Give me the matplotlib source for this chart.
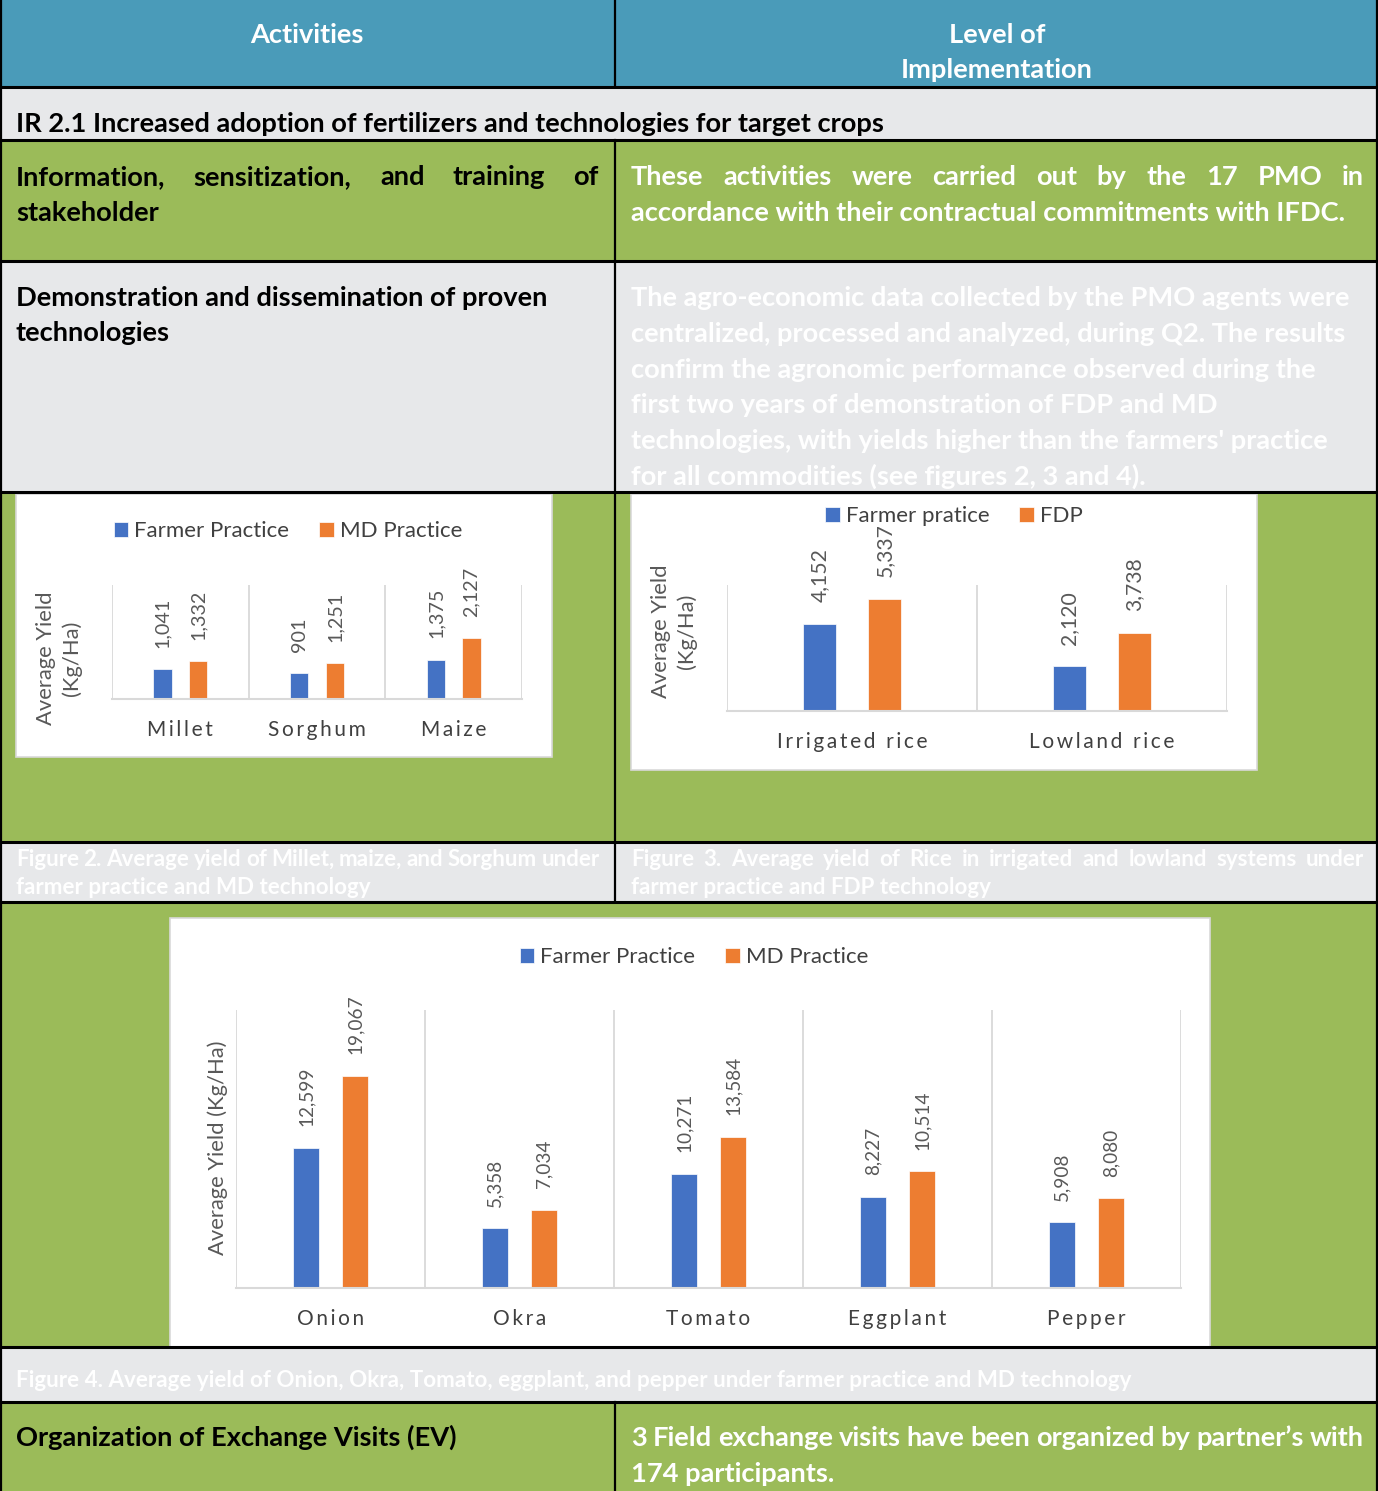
import numpy as np
import matplotlib
matplotlib.use('Agg')
import matplotlib.pyplot as plt
from matplotlib.patches import Rectangle

W, H = 1378, 1491
TEAL = '#4A9BB9'
GREEN = '#9BBB59'
GREY = '#E7E8EA'
BLUE = '#4472C4'
ORANGE = '#ED7D31'
LABEL = '#595959'
TICK = '#404040'
GRID = '#D9D9D9'
FONT = ['Lato', 'DejaVu Sans']

# chart data
cereal_crops = ['Millet', 'Sorghum', 'Maize']
cereal_farmer = [1041, 901, 1375]
cereal_md = [1332, 1251, 2127]

rice_systems = ['Irrigated rice', 'Lowland rice']
rice_farmer = [4152, 2120]
rice_fdp = [5337, 3738]

veg_crops = ['Onion', 'Okra', 'Tomato', 'Eggplant', 'Pepper']
veg_farmer = [12599, 5358, 10271, 8227, 5908]
veg_md = [19067, 7034, 13584, 10514, 8080]

# table text
header_left = 'Activities'
header_right = ['Level of', 'Implementation']
ir_title = 'IR 2.1 Increased adoption of fertilizers and technologies for target crops'
info_left = ['Information, sensitization, and training of', 'stakeholder']
info_right = ['These activities were carried out by the 17 PMO in',
              'accordance with their contractual commitments with IFDC.']
demo_left = ['Demonstration and dissemination of proven', 'technologies']
demo_right = ['The agro-economic data collected by the PMO agents were',
              'centralized, processed and analyzed, during Q2. The results',
              'confirm the agronomic performance observed during the',
              'first two years of demonstration of FDP and MD',
              "technologies, with yields higher than the farmers' practice",
              'for all commodities (see figures 2, 3 and 4).']
cap2 = ['Figure 2. Average yield of Millet, maize, and Sorghum under',
        'farmer practice and MD technology']
cap3 = ['Figure 3.  Average  yield  of  Rice  in  irrigated  and  lowland  systems  under',
        'farmer practice and FDP technology']
cap4 = 'Figure 4. Average yield of Onion, Okra, Tomato, eggplant, and pepper under farmer practice and MD technology'
ev_left = 'Organization of Exchange Visits (EV)'
ev_right = ['3 Field exchange visits have been organized by partner\u2019s with',
            '174 participants.']

fig = plt.figure(figsize=(W / 100, H / 100), dpi=100)
bg = fig.add_axes([0, 0, 1, 1])
bg.set_xlim(0, W)
bg.set_ylim(H, 0)
bg.axis('off')
renderer = fig.canvas.get_renderer()

# table rows
rows = [(0, 87, TEAL), (87, 140, GREY), (140, 261, GREEN), (261, 492, GREY),
        (492, 842, GREEN), (842, 902, GREY), (902, 1347, GREEN),
        (1347, 1402, GREY), (1402, 1491, GREEN)]
for y0, y1, c in rows:
    bg.add_patch(Rectangle((0, y0), W, y1 - y0, facecolor=c, edgecolor='none'))
for y in [87, 140, 261, 492, 842, 902, 1347, 1402]:
    bg.plot([0, W], [y, y], color='black', lw=2.2, solid_capstyle='butt')
for y0, y1 in [(0, 87), (140, 902), (1402, 1491)]:
    bg.plot([615, 615], [y0, y1], color='black', lw=1.6)
bg.plot([1, 1], [0, H], color='black', lw=1.6)
bg.plot([W - 1, W - 1], [0, H], color='black', lw=1.6)

body = dict(family=FONT, weight='bold', fontsize=19.6, va='baseline')
capkw = dict(family=FONT, weight='bold', fontsize=16.1, va='baseline', color='white')


def line(txt, x, y, x1=None, **kw):
    if x1 is None:
        bg.text(x, y, txt, **kw)
        return
    words = txt.split()
    texts = [bg.text(0, y, w, **kw) for w in words]
    widths = [t.get_window_extent(renderer).width for t in texts]
    gap = (x1 - x - sum(widths)) / (len(words) - 1)
    for t, w in zip(texts, widths):
        t.set_x(x)
        x += w + gap


# header
bg.text(307, 43, header_left, ha='center', color='white', **body)
bg.text(997, 43, header_right[0], ha='center', color='white', **body)
bg.text(997, 78, header_right[1], ha='center', color='white', **body)

line(ir_title, 16, 132, color='black', **body)
line(info_left[0], 16, 185, 599, color='black', **body)
line(info_left[1], 16, 221, color='black', **body)
line(info_right[0], 631, 185, 1364, color='white', **body)
line(info_right[1], 631, 221, color='white', **body)

line(demo_left[0], 16, 306, color='black', **body)
line(demo_left[1], 16, 341, color='black', **body)
for i, t in enumerate(demo_right):
    line(t, 631, 306 + 35.8 * i, color='white', **body)

line(cap2[0], 16, 866, 600, **capkw)
line(cap2[1], 16, 894, **capkw)
line(cap3[0], 631, 866, 1364, **capkw)
line(cap3[1], 631, 894, **capkw)
line(cap4, 16, 1387, **capkw)

line(ev_left, 16, 1446, color='black', **body)
line(ev_right[0], 631, 1446, 1364, color='white', **body)
line(ev_right[1], 631, 1482, color='white', **body)

# white chart boxes
for x0, y0, x1, y1 in [(16, 494, 552, 757), (631, 494, 1257, 770), (170, 918, 1210, 1347)]:
    bg.add_patch(Rectangle((x0, y0), x1 - x0, y1 - y0, facecolor='white',
                           edgecolor=GRID, lw=1.2))


def spaced(s):
    return '\u2009'.join(s)


def bar_chart(plot_px, cats, s1, s2, names, ymax, vsize, legend_xy):
    x0, y0, x1, y1 = plot_px
    ax = fig.add_axes([x0 / W, 1 - y1 / H, (x1 - x0) / W, (y1 - y0) / H])
    ax.patch.set_alpha(0)
    n = len(cats)
    idx = np.arange(n)
    b1 = ax.bar(idx - 0.13, s1, 0.135, color=BLUE, edgecolor='white', lw=0.5, label=names[0])
    b2 = ax.bar(idx + 0.13, s2, 0.135, color=ORANGE, edgecolor='white', lw=0.5, label=names[1])
    ax.set_xlim(-0.5, n - 0.5)
    ax.set_ylim(0, ymax)
    for b in np.arange(n + 1) - 0.5:
        ax.axvline(b, color=GRID, lw=1.3, zorder=0)
    for s in ['top', 'left', 'right']:
        ax.spines[s].set_visible(False)
    ax.spines['bottom'].set_color(GRID)
    ax.spines['bottom'].set_linewidth(1.5)
    ax.set_yticks([])
    ax.set_xticks(idx, [spaced(c) for c in cats], family=FONT, fontsize=15, color=TICK)
    ax.tick_params(axis='x', length=0, pad=15)
    for bars, vals in [(b1, s1), (b2, s2)]:
        for r, v in zip(bars, vals):
            ax.annotate(f'{v:,}', (r.get_x() + r.get_width() / 2, v), xytext=(0, 15.5),
                        textcoords='offset points', rotation=90, ha='center', va='bottom',
                        family=FONT, fontsize=vsize, color=LABEL)
    ax.legend(loc='center', bbox_to_anchor=(legend_xy[0] / W, 1 - legend_xy[1] / H),
              bbox_transform=fig.transFigure, ncol=2, frameon=False,
              handlelength=0.65, handleheight=0.65, handletextpad=0.28, columnspacing=1.35,
              prop=dict(family=FONT, size=16), labelcolor=TICK, borderpad=0)
    return ax


bar_chart((112, 585, 522, 699), cereal_crops, cereal_farmer, cereal_md,
          ['Farmer Practice', 'MD Practice'], 4000, 14.2, (288, 531))
bar_chart((727, 585, 1227, 711), rice_systems, rice_farmer, rice_fdp,
          ['Farmer pratice', 'FDP'], 6000, 15.2, (954, 516))
bar_chart((236, 1010, 1181, 1288), veg_crops, veg_farmer, veg_md,
          ['Farmer Practice', 'MD Practice'], 25000, 13.7, (694, 957))

ylab = dict(family=FONT, fontsize=15.8, color=LABEL, rotation=90, ha='center', va='center')
bg.text(59, 658, 'Average Yield\n(Kg/Ha)', linespacing=1.3, **ylab)
bg.text(674, 631, 'Average Yield\n(Kg/Ha)', linespacing=1.3, **ylab)
bg.text(218, 1148, 'Average Yield (Kg/Ha)', **ylab)

fig.savefig('out.png', dpi=100)
